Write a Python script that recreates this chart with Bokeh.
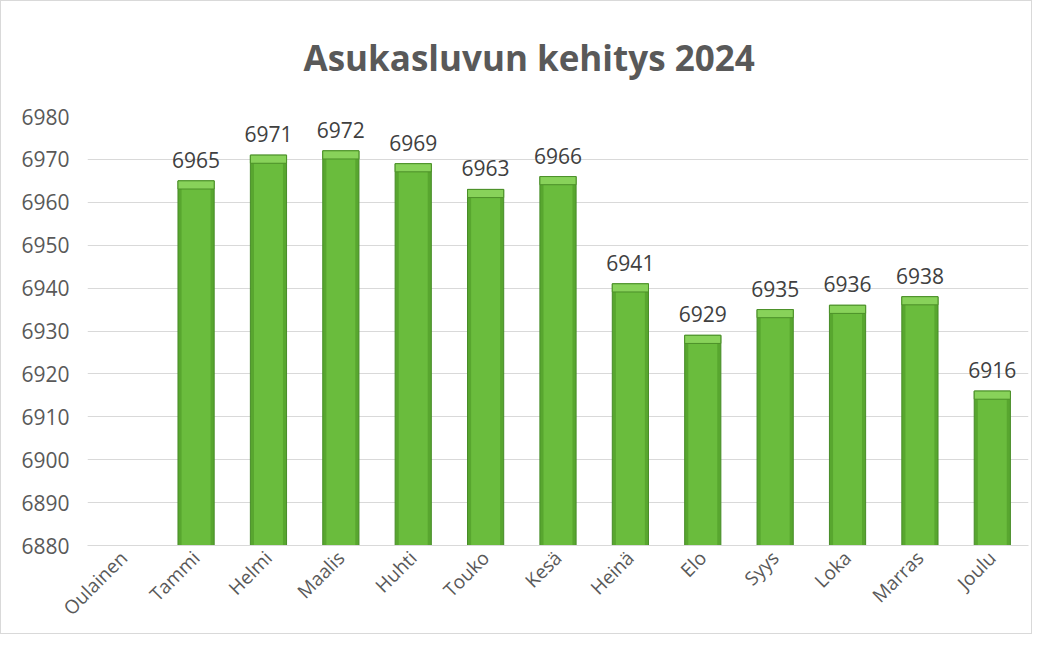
from bokeh.plotting import figure
from bokeh.models import ColumnDataSource, Range1d, FixedTicker, LabelSet, Title
from bokeh.embed import file_html
from bokeh.resources import INLINE
from bokeh.core.properties import value
import math

categories = ["Oulainen", "Tammi", "Helmi", "Maalis", "Huhti", "Touko", "Kesä",
              "Heinä", "Elo", "Syys", "Loka", "Marras", "Joulu"]
bar_cats = categories[1:]
values = [6965, 6971, 6972, 6969, 6963, 6966, 6941, 6929, 6935, 6936, 6938, 6916]
y_ticks = [6880, 6890, 6900, 6910, 6920, 6930, 6940, 6950, 6960, 6970, 6980]
title_text = "Asukasluvun kehitys 2024"

FONT = "Open Sans"
src = ColumnDataSource(dict(
    cat=bar_cats,
    val=values,
    bevel=[v - 1.9 for v in values],
    label=[str(v) for v in values],
))

p = figure(x_range=categories, y_range=Range1d(6880, 6980),
           width=1032, height=634, output_backend="svg", toolbar_location=None,
           title=" ")
p.min_border_left = 86
p.min_border_right = 5
p.min_border_bottom = 90
p.min_border_top = 10

# spacer (outermost)
p.title.text_font_size = "18px"
p.title.standoff = 0

# spacer between title and plot area (closest to the frame)
p.add_layout(Title(text=" ", text_font_size="22px", standoff=0), "above")
# real title
p.add_layout(Title(text=title_text, align="left", offset=216,
                   text_font=FONT, text_font_size="35px", text_font_style="bold",
                   text_color="#595959", standoff=17), "above")

p.outline_line_color = None
p.background_fill_color = "white"
p.border_fill_color = "white"
p.styles = {"border": "1px solid #d9d9d9"}

# bars (simulated bevel)
p.vbar(x="cat", top="val", bottom=6880, width=0.5, source=src,
       fill_color="#58a62f", line_color="#468c27", line_width=1)
p.vbar(x="cat", top="bevel", bottom=6880, width=0.4, source=src,
       fill_color="#6abc3d", line_color=None)
p.vbar(x="cat", top="val", bottom="bevel", width=0.5, source=src,
       fill_color="#88d25a", line_color="#4c9029", line_width=1)

labels = LabelSet(x="cat", y="val", text="label", source=src,
                  text_align="center", text_baseline="bottom", y_offset=13,
                  text_font=value(FONT), text_font_size="21px", text_color="#404040")
p.add_layout(labels)

p.yaxis.ticker = FixedTicker(ticks=y_ticks)
p.yaxis.axis_line_color = None
p.yaxis.major_tick_line_color = None
p.yaxis.minor_tick_line_color = None
p.yaxis.major_label_text_font = FONT
p.yaxis.major_label_text_font_size = "21px"
p.yaxis.major_label_text_color = "#595959"
p.yaxis.major_label_standoff = 12

p.xaxis.axis_line_color = "#d9d9d9"
p.xaxis.major_tick_line_color = None
p.xaxis.minor_tick_line_color = None
p.xaxis.major_label_orientation = math.pi / 4
p.xaxis.major_label_text_font = FONT
p.xaxis.major_label_text_font_size = "19px"
p.xaxis.major_label_text_color = "#595959"
p.xaxis.major_label_standoff = 3

p.xgrid.grid_line_color = None
p.ygrid.grid_line_color = "#d9d9d9"
p.ygrid.ticker = FixedTicker(ticks=y_ticks)

open("out.html", "w").write(file_html(p, INLINE))
